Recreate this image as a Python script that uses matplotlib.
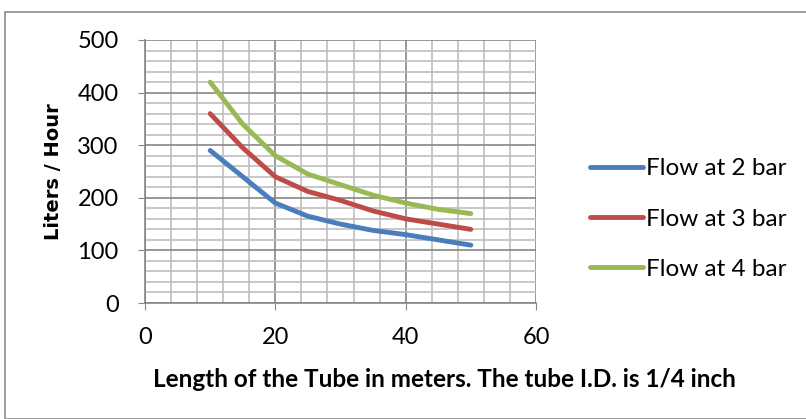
import matplotlib.pyplot as plt
from matplotlib.ticker import MultipleLocator
from matplotlib.patches import Rectangle

length_m = [10, 15, 20, 25, 30, 35, 40, 45, 50]
flow_2bar = [290, 240, 190, 165, 150, 138, 130, 120, 110]
flow_3bar = [360, 295, 240, 212, 195, 175, 160, 150, 140]
flow_4bar = [420, 340, 280, 245, 225, 205, 190, 178, 170]

labels = ['Flow at 2 bar', 'Flow at 3 bar', 'Flow at 4 bar']
colors = ['#4a7ebb', '#be4b48', '#98b954']

plt.rcParams['font.family'] = ['Lato', 'DejaVu Sans']

fig = plt.figure(figsize=(8.06, 4.19), dpi=100)
fig.patches.append(Rectangle((5 / 806, 0), 1, 1 - 12 / 419, transform=fig.transFigure,
                             fill=False, edgecolor='#8c8c8c', linewidth=1.2))

ax = fig.add_axes([145 / 806, 116 / 419, 391 / 806, 263 / 419])

for y, lab, c in zip([flow_2bar, flow_3bar, flow_4bar], labels, colors):
    ax.plot(length_m, y, color=c, linewidth=3.5, label=lab,
            solid_capstyle='round', solid_joinstyle='round', zorder=3)

ax.set_xlim(0, 60)
ax.set_ylim(0, 500)
ax.xaxis.set_major_locator(MultipleLocator(20))
ax.xaxis.set_minor_locator(MultipleLocator(4))
ax.yaxis.set_major_locator(MultipleLocator(100))
ax.yaxis.set_minor_locator(MultipleLocator(20))
ax.grid(which='major', color='#868686', linewidth=1.2)
ax.grid(which='minor', color='#bfbfbf', linewidth=1.2)
ax.set_axisbelow(True)

for s in ['top', 'right']:
    ax.spines[s].set_visible(False)
for s in ['left', 'bottom']:
    ax.spines[s].set_color('#868686')
    ax.spines[s].set_linewidth(1.2)

ax.tick_params(which='major', length=5, color='#868686', labelsize=17)
ax.tick_params(which='minor', length=0)
ax.tick_params(axis='x', pad=12)
ax.tick_params(axis='y', pad=14)

# Excel puts the axis title off-centre, starting near the plot's left edge
fig.text(153 / 806, (419 - 387) / 419,
         'Length of the Tube in meters. The tube I.D. is 1/4 inch',
         fontsize=17.5, fontweight='bold', ha='left', va='baseline')
ax.set_ylabel('Liters / Hour', fontsize=14, fontweight='bold', labelpad=10,
              family='DejaVu Sans')

ax.legend(loc='center left', bbox_to_anchor=(1.082, 0.319), frameon=False,
          fontsize=17.5, handlelength=2.2, handletextpad=0.1, labelspacing=1.2)

fig.savefig('out.png', dpi=100)
